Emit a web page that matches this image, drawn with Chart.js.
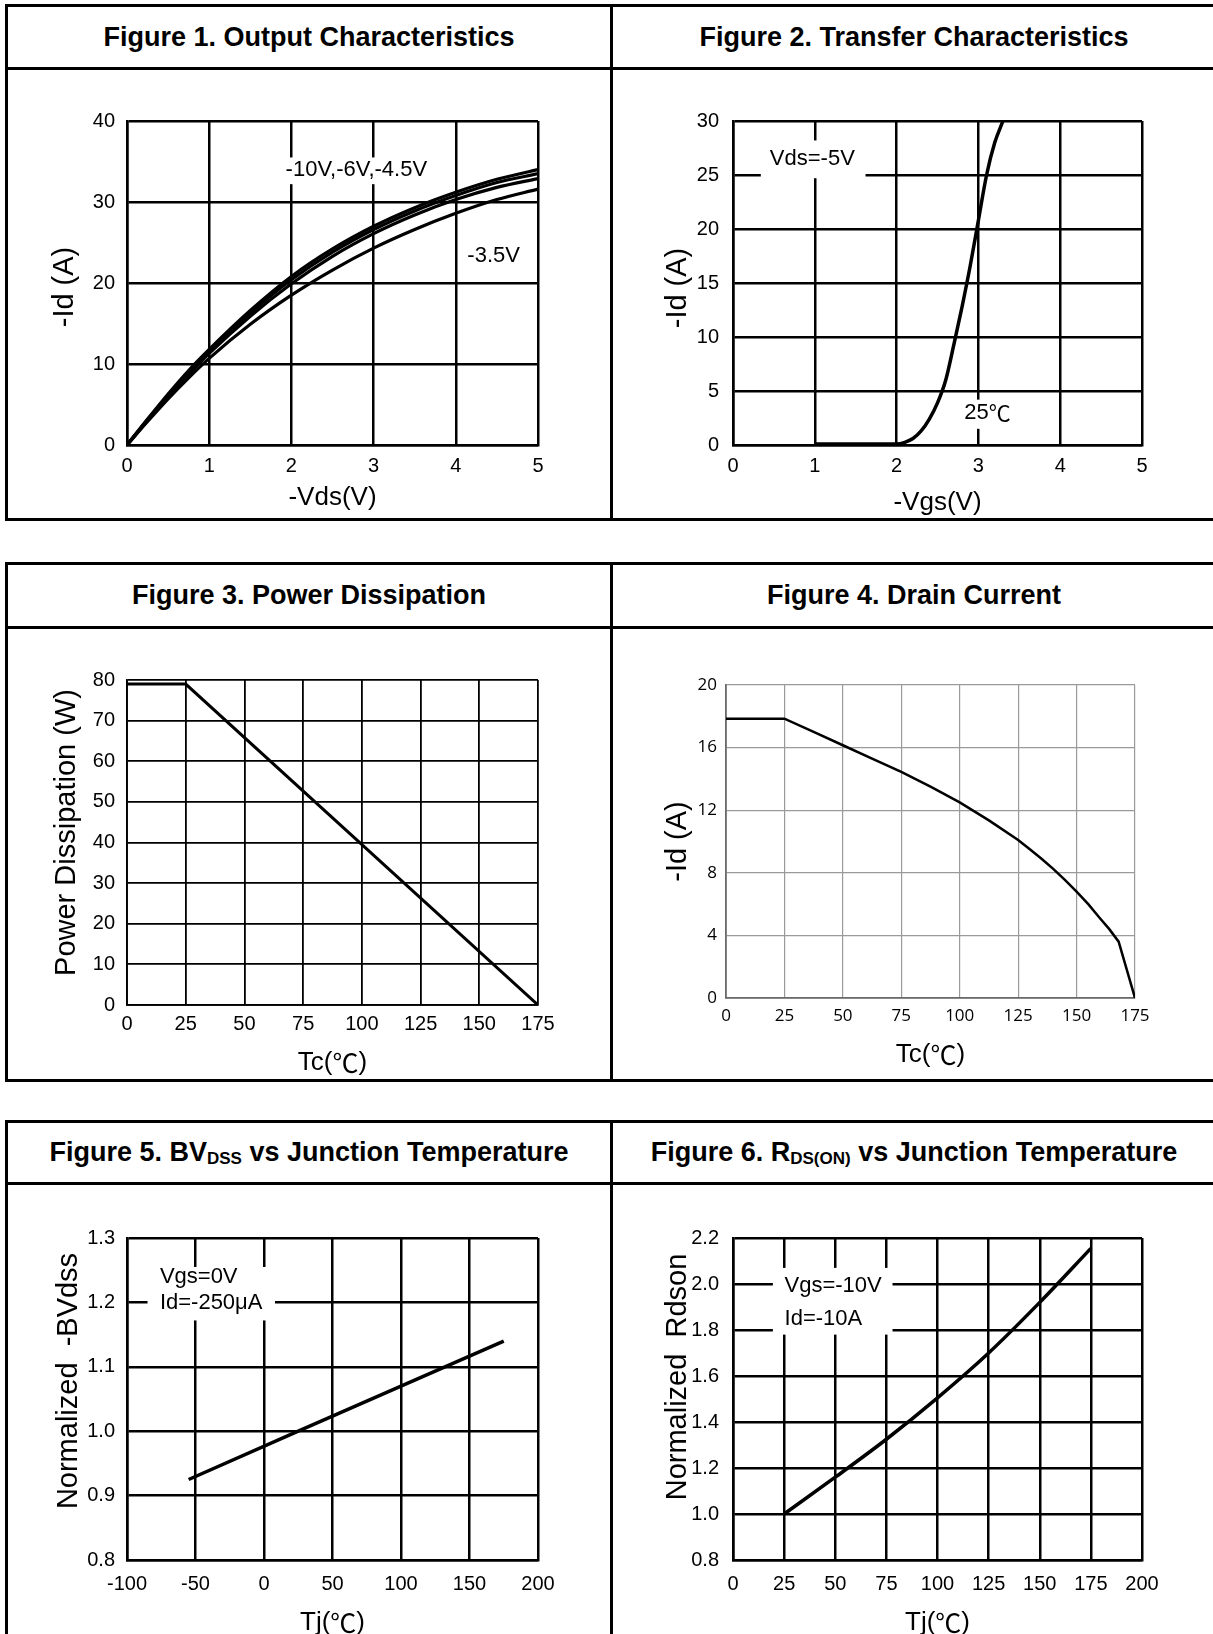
<!DOCTYPE html>
<html>
<head>
<meta charset="utf-8">
<script src="https://cdn.jsdelivr.net/npm/chart.js@4.4.1/dist/chart.umd.min.js"></script>
<style>
  html, body { margin: 0; padding: 0; overflow: hidden; background: #fff; width: 1213px; height: 1634px; }
  .ln { position: absolute; background: #000; }
  .hdr { position: absolute; text-align: center; font: bold 27px 'Liberation Sans', Arial, sans-serif; color: #000; white-space: nowrap; }
  .hdr sub { font-size: 17px; vertical-align: -3px; }
  canvas { position: absolute; }
</style>
</head>
<body>
<!-- row 1 -->
<div class="ln" style="left:5px;top:4px;width:1300px;height:3px"></div>
<div class="ln" style="left:5px;top:67px;width:1300px;height:3px"></div>
<div class="ln" style="left:5px;top:518px;width:1300px;height:3px"></div>
<div class="ln" style="left:5px;top:4px;width:3px;height:517px"></div>
<div class="ln" style="left:610px;top:4px;width:3px;height:517px"></div>
<div class="hdr" style="left:8px;top:7px;width:602px;height:60px;line-height:60px">Figure 1. Output Characteristics</div>
<div class="hdr" style="left:613px;top:7px;width:602px;height:60px;line-height:60px">Figure 2. Transfer Characteristics</div>
<!-- row 2 -->
<div class="ln" style="left:5px;top:562px;width:1300px;height:3px"></div>
<div class="ln" style="left:5px;top:626px;width:1300px;height:3px"></div>
<div class="ln" style="left:5px;top:1079px;width:1300px;height:3px"></div>
<div class="ln" style="left:5px;top:562px;width:3px;height:520px"></div>
<div class="ln" style="left:610px;top:562px;width:3px;height:520px"></div>
<div class="hdr" style="left:8px;top:565px;width:602px;height:61px;line-height:61px">Figure 3. Power Dissipation</div>
<div class="hdr" style="left:613px;top:565px;width:602px;height:61px;line-height:61px">Figure 4. Drain Current</div>
<!-- row 3 -->
<div class="ln" style="left:5px;top:1120px;width:1300px;height:3px"></div>
<div class="ln" style="left:5px;top:1182px;width:1300px;height:3px"></div>
<div class="ln" style="left:5px;top:1120px;width:3px;height:600px"></div>
<div class="ln" style="left:610px;top:1120px;width:3px;height:600px"></div>
<div class="hdr" style="left:8px;top:1123px;width:602px;height:59px;line-height:59px">Figure 5. BV<sub>DSS</sub> vs Junction Temperature</div>
<div class="hdr" style="left:613px;top:1123px;width:602px;height:59px;line-height:59px">Figure 6. R<sub>DS(ON)</sub> vs Junction Temperature</div>

<script>
// Figure 1: output characteristics
const vds = [0, 0.25, 0.5, 0.75, 1, 1.5, 2, 2.5, 3, 3.5, 4, 4.5, 5];
const idVgs10 = [0, 3.2, 6.3, 9.2, 11.8, 16.6, 20.8, 24.2, 27.0, 29.3, 31.2, 32.8, 34.0];
const idVgs6 = [0, 3.1, 6.1, 9.0, 11.6, 16.3, 20.4, 23.8, 26.6, 28.9, 30.8, 32.4, 33.5];
const idVgs45 = [0, 3.0, 5.9, 8.7, 11.3, 15.9, 19.9, 23.3, 26.1, 28.4, 30.3, 31.8, 32.9];
const idVgs35 = [0, 2.9, 5.7, 8.3, 10.7, 14.9, 18.5, 21.6, 24.3, 26.6, 28.6, 30.3, 31.6];

// Figure 2: transfer characteristics
const vgs = [1, 1.5, 2.0, 2.1, 2.2, 2.3, 2.4, 2.5, 2.6, 2.7, 2.8, 2.9, 3.0, 3.1, 3.2, 3.3];
const idTransfer = [0.1, 0.1, 0.1, 0.25, 0.6, 1.3, 2.4, 3.9, 6.0, 9.3, 12.8, 16.6, 20.8, 25.0, 28.0, 30.0];

// Figure 3: power dissipation
const tcPower = [0, 25, 175];
const power = [79, 79, 0];

// Figure 4: drain current
const tcDrain = [0, 25, 37.5, 50, 62.5, 75, 87.5, 100, 112.5, 125, 130, 135, 140, 145, 150, 155, 160, 164, 168, 175];
const idDrain = [17.85, 17.85, 17.0, 16.15, 15.3, 14.45, 13.5, 12.5, 11.35, 10.1, 9.5, 8.9, 8.25, 7.55, 6.8, 6.0, 5.1, 4.4, 3.6, 0];

// Figure 5: BVdss vs Tj
const tjBv = [-55, 25, 175];
const bvdss = [0.925, 1.0, 1.14];

// Figure 6: Rdson vs Tj
const tjRds = [25, 50, 75, 100, 125, 150, 175];
const rdson = [1.0, 1.16, 1.325, 1.505, 1.70, 1.92, 2.155];

const ARIAL = "'Liberation Sans', Arial, sans-serif";
const SEGOE = "'Open Sans', 'Noto Sans', sans-serif";
const CJK = "'Noto Sans CJK SC', 'Noto Sans CJK JP', sans-serif";
const X_TITLE = 26, Y_TITLE = 29, TICK = 20;
const CLEAR = 'rgba(0,0,0,0)';

// text with the degree-Celsius sign taken from the CJK font
function drawMixed(ctx, text, x, y, size, align) {
  const parts = text.split(/(\u2103)/).filter(p => p);
  const fontFor = p => size + 'px ' + (p === '\u2103' ? CJK : ARIAL);
  let total = 0;
  const widths = parts.map(p => {
    ctx.font = fontFor(p);
    const w = ctx.measureText(p).width;
    total += w;
    return w;
  });
  let cur = align === 'left' ? x : align === 'right' ? x - total : x - total / 2;
  ctx.textAlign = 'left';
  ctx.textBaseline = 'middle';
  parts.forEach((p, i) => {
    ctx.font = fontFor(p);
    ctx.fillText(p, cur, y);
    cur += widths[i];
  });
}

const notesPlugin = {
  id: 'notes',
  beforeDatasetsDraw(chart, args, opts) {
    const items = opts.items || [];
    const { ctx, scales: { x, y } } = chart;
    ctx.save();
    items.forEach(n => {
      if (n.box) {
        const x0 = x.getPixelForValue(n.box[0]), x1 = x.getPixelForValue(n.box[1]);
        const y0 = y.getPixelForValue(n.box[2]), y1 = y.getPixelForValue(n.box[3]);
        ctx.fillStyle = '#fff';
        ctx.fillRect(x0, y1, x1 - x0, y0 - y1);
      }
      ctx.fillStyle = '#000';
      n.lines.forEach(l => drawMixed(ctx, l[0], x.getPixelForValue(l[1]), y.getPixelForValue(l[2]), n.size, n.align || 'center'));
    });
    ctx.restore();
  },
  afterDraw(chart, args, opts) {
    const { ctx, scales: { x, y } } = chart;
    ctx.save();
    ctx.fillStyle = '#000';
    drawMixed(ctx, opts.xTitle, (x.left + x.right) / 2, x.bottom - X_TITLE * 0.6, X_TITLE, 'center');
    ctx.translate(y.left + Y_TITLE * 0.6, (y.top + y.bottom) / 2 - opts.yShift);
    ctx.rotate(-Math.PI / 2);
    drawMixed(ctx, opts.yTitle, 0, 0, Y_TITLE, 'center');
    ctx.restore();
  }
};

function pts(xs, ys) {
  return xs.map((v, i) => ({ x: v, y: ys[i] }));
}

function makeChart(g) {
  const cw = g.W, ch = g.H;
  const cx = v => v - g.L;
  const tickSize = g.tickSize || TICK;
  const lhX = X_TITLE * 1.2, lhY = Y_TITLE * 1.2, lhK = tickSize * 1.2;
  const padL = cx(g.yTitleX) - lhY / 2;
  const yW = cx(g.l) - padL;
  const yPad = cx(g.l) - cx(g.yTickR);
  const padT = g.t - g.T;
  const padR = cw - cx(g.r);
  const xTop = g.b - g.T;
  const xBottom = g.xTitleY - g.T + lhX / 2;
  const xH = xBottom - xTop;
  const padB = ch - xBottom;
  const xPad = g.xTickY - g.b - lhK / 2;

  const canvas = document.createElement('canvas');
  canvas.width = cw;
  canvas.height = ch;
  canvas.style.left = g.L + 'px';
  canvas.style.top = g.T + 'px';
  document.body.appendChild(canvas);

  const tickFont = { family: g.tickFamily || ARIAL, size: tickSize };
  const grid = { color: g.gridColor || '#000', lineWidth: g.gridWidth || 2.5, drawTicks: false };
  const border = { display: true, color: g.axisColor || '#000', width: g.axisWidth || g.gridWidth || 2.5 };

  return new Chart(canvas, {
    type: 'line',
    data: {
      datasets: g.series.map(s => ({
        data: pts(s[0], s[1]),
        borderColor: '#000',
        borderWidth: g.lineWidth || 3.5,
        pointRadius: 0,
        fill: false,
        tension: 0,
        cubicInterpolationMode: g.smooth ? 'monotone' : 'default',
      })),
    },
    options: {
      responsive: false,
      animation: false,
      events: [],
      layout: { padding: { left: padL, top: padT, right: padR, bottom: padB } },
      plugins: {
        legend: { display: false },
        tooltip: { enabled: false },
        notes: { items: g.notes || [], xTitle: g.xTitle, yTitle: g.yTitle, yShift: g.yShift || 0 },
      },
      scales: {
        x: {
          type: 'linear',
          min: g.xr[0],
          max: g.xr[1],
          ticks: { stepSize: g.xr[2], padding: xPad, font: tickFont, color: '#000', maxRotation: 0, autoSkip: false },
          grid: grid,
          border: border,
          title: { display: true, text: g.xTitle, padding: 0, font: { family: ARIAL, size: X_TITLE }, color: CLEAR },
          afterFit: s => { s.height = xH; },
        },
        y: {
          type: 'linear',
          min: g.yr[0],
          max: g.yr[1],
          ticks: {
            stepSize: g.yr[2], padding: yPad, font: tickFont, color: '#000', autoSkip: false,
            callback: v => (g.yDec ? Number(v).toFixed(g.yDec) : v),
          },
          grid: grid,
          border: border,
          title: { display: true, text: g.yTitle, padding: 0, font: { family: ARIAL, size: Y_TITLE }, color: CLEAR },
          afterFit: s => { s.width = yW; },
        },
      },
    },
    plugins: [notesPlugin],
  });
}

makeChart({
  L: 8, T: 71, W: 602, H: 447, l: 127, r: 538, t: 121, b: 445,
  yTitleX: 65, yTickR: 115, xTickY: 466, xTitleY: 498, yShift: -4,
  xr: [0, 5, 1], yr: [0, 40, 10], xTitle: '-Vds(V)', yTitle: '-Id (A)',
  smooth: true, lineWidth: 3.2,
  series: [[vds, idVgs10], [vds, idVgs6], [vds, idVgs45], [vds, idVgs35]],
  notes: [
    { size: 22, box: [1.85, 3.75, 32.2, 35.5], lines: [['-10V,-6V,-4.5V', 2.79, 33.9]] },
    { size: 22, lines: [['-3.5V', 4.46, 23.4]] },
  ],
});

makeChart({
  L: 615, T: 71, W: 598, H: 447, l: 733, r: 1142, t: 121, b: 445,
  yTitleX: 678, yTickR: 719, xTickY: 466, xTitleY: 503, yShift: -5,
  xr: [0, 5, 1], yr: [0, 30, 5], xTitle: '-Vgs(V)', yTitle: '-Id (A)',
  smooth: true,
  series: [[vgs, idTransfer]],
  notes: [
    { size: 22, box: [0.34, 1.62, 24.7, 28.2], lines: [['Vds=-5V', 0.97, 26.5]] },
    { size: 22, box: [2.74, 3.5, 1.5, 4.2], lines: [['25\u2103', 3.11, 3.0]] },
  ],
});

makeChart({
  L: 8, T: 630, W: 602, H: 448, l: 127, r: 538, t: 680, b: 1005,
  yTitleX: 67, yTickR: 115, xTickY: 1024, xTitleY: 1063, yShift: 10,
  xr: [0, 175, 25], yr: [0, 80, 10], xTitle: 'Tc(\u2103)', yTitle: 'Power Dissipation (W)',
  gridWidth: 1.8, lineWidth: 3,
  series: [[tcPower, power]],
});

makeChart({
  L: 615, T: 630, W: 598, H: 448, l: 726, r: 1135, t: 685, b: 998,
  yTitleX: 678, yTickR: 717, xTickY: 1016, xTitleY: 1055, yShift: 0,
  xr: [0, 175, 25], yr: [0, 20, 4], xTitle: 'Tc(\u2103)', yTitle: '-Id (A)',
  tickFamily: SEGOE, tickSize: 17,
  gridColor: '#9a9a9a', gridWidth: 1.2, axisColor: '#6a6a6a', axisWidth: 1.8, lineWidth: 2.5,
  series: [[tcDrain, idDrain]],
});

makeChart({
  L: 8, T: 1186, W: 602, H: 460, l: 127, r: 538, t: 1238, b: 1560,
  yTitleX: 69, yTickR: 115, xTickY: 1584, xTitleY: 1623, yShift: 18,
  xr: [-100, 200, 50], yr: [0.8, 1.3, 0.1], yDec: 1, xTitle: 'Tj(\u2103)', yTitle: 'Normalized  -BVdss',
  series: [[tjBv, bvdss]],
  notes: [
    { size: 22, align: 'left', box: [-85, 8, 1.172, 1.255], lines: [['Vgs=0V', -76, 1.239], ['Id=-250\u03bcA', -76, 1.199]] },
  ],
});

makeChart({
  L: 615, T: 1186, W: 598, H: 460, l: 733, r: 1142, t: 1238, b: 1560,
  yTitleX: 678, yTickR: 719, xTickY: 1584, xTitleY: 1623, yShift: 22,
  xr: [0, 200, 25], yr: [0.8, 2.2, 0.2], yDec: 1, xTitle: 'Tj(\u2103)', yTitle: 'Normalized  Rdson',
  smooth: true,
  series: [[tjRds, rdson]],
  notes: [
    { size: 22, align: 'left', box: [19.5, 78, 1.78, 2.07], lines: [['Vgs=-10V', 25.2, 1.991], ['Id=-10A', 25.2, 1.846]] },
  ],
});
</script>
</body>
</html>
